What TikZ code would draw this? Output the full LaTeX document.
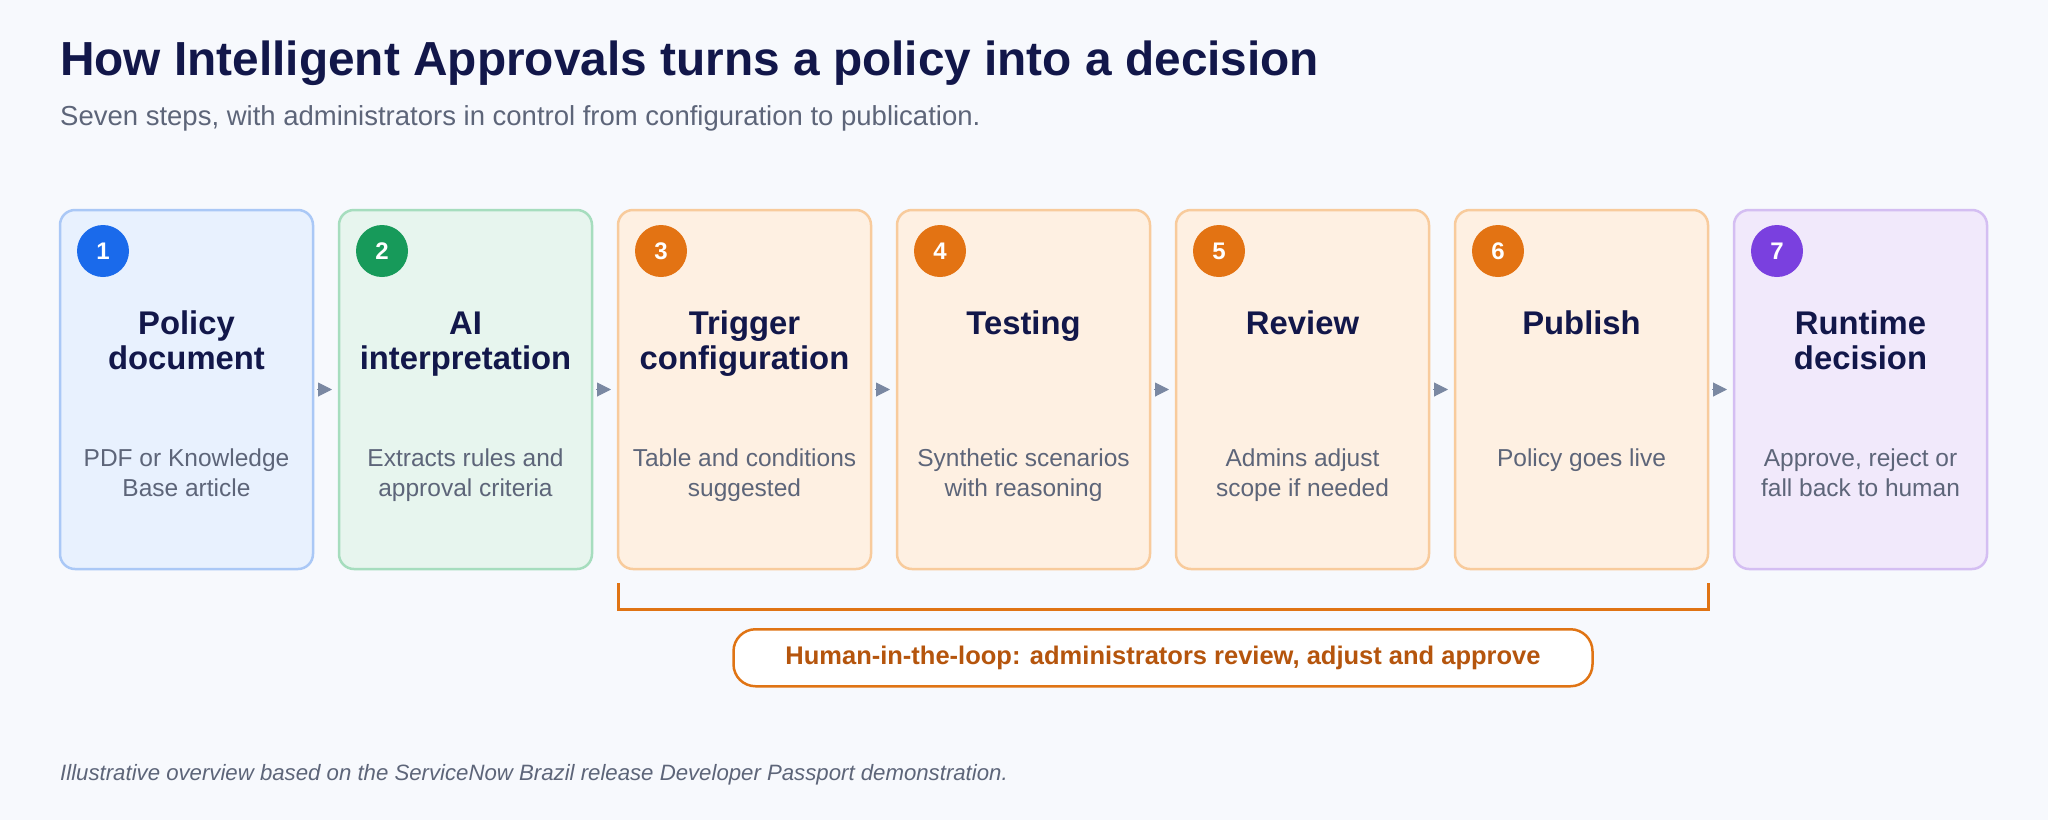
\documentclass[tikz,border=0pt]{standalone}
\usepackage{fontspec}
\setmainfont{Liberation Sans}
\usetikzlibrary{positioning,arrows.meta}

\definecolor{pagebg}{HTML}{F7F9FD}
\definecolor{ink}{HTML}{12174A}
\definecolor{muted}{HTML}{5D6579}
\definecolor{bluefill}{HTML}{E8F1FE}
\definecolor{blueline}{HTML}{AAC8F6}
\definecolor{bluedot}{HTML}{1A6AEB}
\definecolor{greenfill}{HTML}{E7F5EE}
\definecolor{greenline}{HTML}{A6DDBE}
\definecolor{greendot}{HTML}{179A5A}
\definecolor{orangefill}{HTML}{FEF0E2}
\definecolor{orangeline}{HTML}{F8CB9C}
\definecolor{orangedot}{HTML}{E37313}
\definecolor{purplefill}{HTML}{F1E9FB}
\definecolor{purpleline}{HTML}{D4BEF2}
\definecolor{purpledot}{HTML}{7A40DF}
\definecolor{arrowgray}{HTML}{7A88A2}
\definecolor{loopline}{HTML}{E07414}
\definecolor{looptext}{HTML}{B5550D}

\begin{document}
\begin{tikzpicture}[
    x=1pt, y=-1pt,
    card/.style={rectangle, rounded corners=15pt, draw=#1line, fill=#1fill, line width=2.5pt, minimum width=253pt, minimum height=359pt, inner sep=0pt, outer sep=0pt},
    numdot/.style={circle, fill=#1dot, text=white, minimum size=52pt, inner sep=0pt, font=\fontsize{24}{26}\selectfont\bfseries},
    head/.style={anchor=north, align=center, inner sep=0pt, text=ink, font=\fontsize{32.8}{35}\selectfont\bfseries},
    desc/.style={anchor=north, align=center, inner sep=0pt, text=muted, font=\fontsize{24.5}{30}\selectfont},
    arrow/.style={arrowgray, line width=1pt, shorten <=4pt, shorten >=7pt, -{Triangle[length=14pt, width=14pt]}},
    bracket/.style={loopline, line width=3pt},
    loopnote/.style={rectangle, rounded corners=22pt, draw=loopline, line width=2.5pt, fill=white, minimum width=859pt, minimum height=57pt, text=looptext, font=\fontsize{25.5}{28}\selectfont\bfseries}
]

% page
\fill[pagebg] (0,0) rectangle (2048,820);

\node[anchor=base west, inner sep=0pt, text=ink, font=\fontsize{47.8}{54}\selectfont\bfseries] (title) at (60,75) {How Intelligent Approvals turns a policy into a decision};
\node[anchor=base west, inner sep=0pt, text=muted, font=\fontsize{27.5}{32}\selectfont] (subtitle) at (60,125) {Seven steps, with administrators in control from configuration to publication.};

% the seven steps
\node[card=blue] (c1) at (186.5,389.5) {};
\node[card=green, right=26pt of c1] (c2) {};
\node[card=orange, right=26pt of c2] (c3) {};
\node[card=orange, right=26pt of c3] (c4) {};
\node[card=orange, right=26pt of c4] (c5) {};
\node[card=orange, right=26pt of c5] (c6) {};
\node[card=purple, right=26pt of c6] (c7) {};

\node[numdot=blue] (n1) at ([shift={(43,41)}]c1.north west) {1};
\node[numdot=green] (n2) at ([shift={(43,41)}]c2.north west) {2};
\node[numdot=orange] (n3) at ([shift={(43,41)}]c3.north west) {3};
\node[numdot=orange] (n4) at ([shift={(43,41)}]c4.north west) {4};
\node[numdot=orange] (n5) at ([shift={(43,41)}]c5.north west) {5};
\node[numdot=orange] (n6) at ([shift={(43,41)}]c6.north west) {6};
\node[numdot=purple] (n7) at ([shift={(43,41)}]c7.north west) {7};

\node[head] (h1) at ([shift={(0,100)}]c1.north) {\strut Policy\\document};
\node[head] (h2) at ([shift={(0,100)}]c2.north) {\strut AI\\interpretation};
\node[head] (h3) at ([shift={(0,100)}]c3.north) {\strut Trigger\\configuration};
\node[head] (h4) at ([shift={(0,100)}]c4.north) {\strut Testing};
\node[head] (h5) at ([shift={(0,100)}]c5.north) {\strut Review};
\node[head] (h6) at ([shift={(0,100)}]c6.north) {\strut Publish};
\node[head] (h7) at ([shift={(0,100)}]c7.north) {\strut Runtime\\decision};

\node[desc] (d1) at ([shift={(0,235)}]c1.north) {\strut PDF or Knowledge\\Base article};
\node[desc] (d2) at ([shift={(0,235)}]c2.north) {\strut Extracts rules and\\approval criteria};
\node[desc] (d3) at ([shift={(0,235)}]c3.north) {\strut Table and conditions\\suggested};
\node[desc] (d4) at ([shift={(0,235)}]c4.north) {\strut Synthetic scenarios\\with reasoning};
\node[desc] (d5) at ([shift={(0,235)}]c5.north) {\strut Admins adjust\\scope if needed};
\node[desc] (d6) at ([shift={(0,235)}]c6.north) {\strut Policy goes live};
\node[desc] (d7) at ([shift={(0,235)}]c7.north) {\strut Approve, reject or\\fall back to human};

\draw[arrow] (c1) -- (c2);
\draw[arrow] (c2) -- (c3);
\draw[arrow] (c3) -- (c4);
\draw[arrow] (c4) -- (c5);
\draw[arrow] (c5) -- (c6);
\draw[arrow] (c6) -- (c7);

% human-in-the-loop span
\draw[bracket] ([shift={(0,14)}]c3.south west) -- ++(0,26) -- coordinate (brk) ([shift={(0,40)}]c6.south east) -- ++(0,-26);
\node[loopnote, below=19pt of brk] (loop) {Human-in-the-loop: administrators review, adjust and approve};

\node[anchor=base west, inner sep=0pt, text=muted, font=\fontsize{22.2}{26}\selectfont\itshape] (note) at (60,780) {Illustrative overview based on the ServiceNow Brazil release Developer Passport demonstration.};

\end{tikzpicture}
\end{document}
